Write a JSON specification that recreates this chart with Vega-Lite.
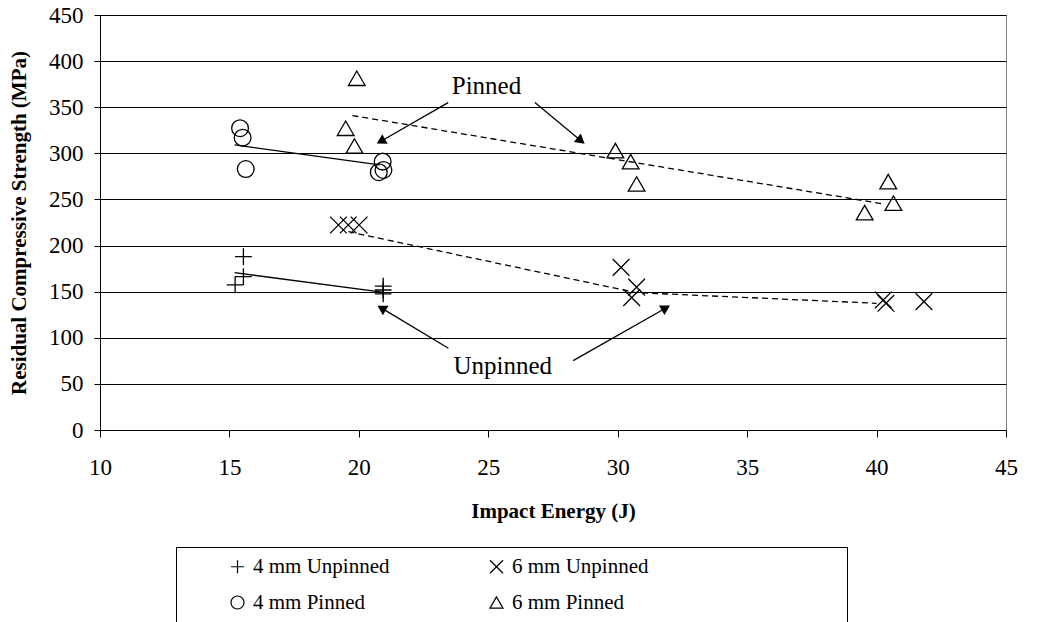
{
  "$schema": "https://vega.github.io/schema/vega-lite/v6.json",
  "width": 906,
  "height": 415,
  "autosize": {"type": "none"},
  "padding": {"left": 100, "top": 15, "right": 37, "bottom": 192},
  "background": "white",
  "config": {
    "font": "Liberation Serif",
    "view": {"stroke": "#808080", "strokeWidth": 1},
    "axis": {
      "labelFont": "Liberation Serif",
      "titleFont": "Liberation Serif",
      "labelColor": "black",
      "titleColor": "black",
      "labelFontSize": 23,
      "titleFontSize": 21,
      "titleFontWeight": "bold",
      "domainColor": "black",
      "tickColor": "black",
      "gridColor": "black",
      "gridOpacity": 1
    }
  },
  "datasets": {
    "points": [
      {"series": "4 mm Unpinned", "x": 15.54, "y": 188},
      {"series": "4 mm Unpinned", "x": 15.54, "y": 166.3},
      {"series": "4 mm Unpinned", "x": 15.22, "y": 157.3},
      {"series": "4 mm Unpinned", "x": 20.94, "y": 156},
      {"series": "4 mm Unpinned", "x": 20.94, "y": 151.8},
      {"series": "4 mm Unpinned", "x": 20.94, "y": 147.5},
      {"series": "4 mm Pinned", "x": 15.41, "y": 327.2},
      {"series": "4 mm Pinned", "x": 15.51, "y": 317},
      {"series": "4 mm Pinned", "x": 15.63, "y": 283},
      {"series": "4 mm Pinned", "x": 20.92, "y": 291},
      {"series": "4 mm Pinned", "x": 20.95, "y": 282},
      {"series": "4 mm Pinned", "x": 20.77, "y": 279.5},
      {"series": "6 mm Unpinned", "x": 19.21, "y": 222.3},
      {"series": "6 mm Unpinned", "x": 19.59, "y": 222.3},
      {"series": "6 mm Unpinned", "x": 20.01, "y": 222.3},
      {"series": "6 mm Unpinned", "x": 30.13, "y": 176.4},
      {"series": "6 mm Unpinned", "x": 30.73, "y": 155},
      {"series": "6 mm Unpinned", "x": 30.54, "y": 143.5},
      {"series": "6 mm Unpinned", "x": 40.26, "y": 141},
      {"series": "6 mm Unpinned", "x": 40.36, "y": 137.4},
      {"series": "6 mm Unpinned", "x": 41.83, "y": 139.2},
      {"series": "6 mm Pinned", "x": 19.92, "y": 381.4},
      {"series": "6 mm Pinned", "x": 19.49, "y": 327.2},
      {"series": "6 mm Pinned", "x": 19.83, "y": 308},
      {"series": "6 mm Pinned", "x": 29.91, "y": 303},
      {"series": "6 mm Pinned", "x": 30.5, "y": 291},
      {"series": "6 mm Pinned", "x": 30.73, "y": 266.8},
      {"series": "6 mm Pinned", "x": 40.45, "y": 269.3},
      {"series": "6 mm Pinned", "x": 40.65, "y": 245.9},
      {"series": "6 mm Pinned", "x": 39.54, "y": 235.7}
    ],
    "trends": [
      {"series": "4 mm Unpinned", "x": 15.2, "y": 170.6},
      {"series": "4 mm Unpinned", "x": 20.9, "y": 149.5},
      {"series": "4 mm Pinned", "x": 15.2, "y": 309.1},
      {"series": "4 mm Pinned", "x": 20.8, "y": 287.4},
      {"series": "6 mm Unpinned", "x": 19.6, "y": 215},
      {"series": "6 mm Unpinned", "x": 30.7, "y": 149},
      {"series": "6 mm Unpinned", "x": 40.0, "y": 137.4},
      {"series": "6 mm Pinned", "x": 19.75, "y": 341},
      {"series": "6 mm Pinned", "x": 40.3, "y": 245}
    ],
    "arrows": [
      {"id": "a1", "x": 23.45, "y": 355, "x2": 20.85, "y2": 313.1},
      {"id": "a2", "x": 26.8, "y": 355, "x2": 28.58, "y2": 313.7},
      {"id": "a3", "x": 23.46, "y": 88.6, "x2": 20.88, "y2": 132.2},
      {"id": "a4", "x": 28.28, "y": 75.2, "x2": 31.86, "y2": 132.3}
    ],
    "notes": [
      {"label": "Pinned", "x": 24.93, "y": 372.9},
      {"label": "Unpinned", "x": 25.56, "y": 69.4}
    ]
  },
  "layer": [
    {
      "data": {"name": "trends"},
      "transform": [{"filter": {"field": "series", "oneOf": ["4 mm Unpinned", "4 mm Pinned"]}}],
      "mark": {"type": "line", "color": "black", "strokeWidth": 1.3},
      "encoding": {
        "x": {
          "field": "x", "type": "quantitative",
          "scale": {"domain": [10, 45], "nice": false, "zero": false},
          "axis": {
            "title": "Impact Energy (J)",
            "values": [10, 15, 20, 25, 30, 35, 40, 45],
            "grid": false,
            "tickSize": 7,
            "labelPadding": 19,
            "titlePadding": 21,
            "labelFlush": false
          }
        },
        "y": {
          "field": "y", "type": "quantitative",
          "scale": {"domain": [0, 450], "nice": false},
          "axis": {
            "title": "Residual Compressive Strength (MPa)",
            "values": [0, 50, 100, 150, 200, 250, 300, 350, 400, 450],
            "grid": true,
            "tickSize": 6,
            "labelPadding": 11,
            "titlePadding": 19,
            "labelFlush": false
          }
        },
        "detail": {"field": "series"}
      }
    },
    {
      "data": {"name": "trends"},
      "transform": [{"filter": {"field": "series", "oneOf": ["6 mm Unpinned", "6 mm Pinned"]}}],
      "mark": {"type": "line", "color": "black", "strokeWidth": 1.3, "strokeDash": [6, 4]},
      "encoding": {
        "x": {"field": "x", "type": "quantitative"},
        "y": {"field": "y", "type": "quantitative"},
        "detail": {"field": "series"}
      }
    },
    {
      "data": {"name": "points"},
      "mark": {"type": "point", "filled": false, "color": "black", "strokeWidth": 1.3, "size": 280, "opacity": 1},
      "encoding": {
        "x": {"field": "x", "type": "quantitative"},
        "y": {"field": "y", "type": "quantitative"},
        "shape": {
          "field": "series", "type": "nominal",
          "scale": {
            "domain": ["4 mm Unpinned", "4 mm Pinned", "6 mm Unpinned", "6 mm Pinned"],
            "range": ["M-1,0L1,0M0,-1L0,1", "circle", "M-1,-1L1,1M-1,1L1,-1", "triangle-up"]
          },
          "legend": {
            "orient": "none",
            "legendX": 76,
            "legendY": 532,
            "columns": 2,
            "columnPadding": 96,
            "rowPadding": 14,
            "padding": 9,
            "strokeColor": "black",
            "fillColor": "white",
            "title": "\u00a0",
            "titleOrient": "left",
            "titlePadding": 42,
            "titleFontSize": 10,
            "labelFont": "Liberation Serif",
            "labelFontSize": 21,
            "labelColor": "black",
            "labelOffset": 5,
            "labelLimit": 600,
            "labelExpr": "(datum.label === '6 mm Unpinned' || datum.label === '6 mm Pinned') ? datum.label + '\u00a0\u00a0\u00a0\u00a0\u00a0\u00a0\u00a0\u00a0\u00a0\u00a0\u00a0\u00a0\u00a0\u00a0\u00a0\u00a0\u00a0\u00a0\u00a0\u00a0\u00a0\u00a0\u00a0\u00a0\u00a0\u00a0\u00a0\u00a0\u00a0\u00a0\u00a0\u00a0\u00a0\u00a0\u00a0\u00a0\u200b' : datum.label",
            "symbolSize": 170,
            "symbolStrokeWidth": 1.2,
            "symbolStrokeColor": "black",
            "symbolFillColor": "transparent"
          }
        }
      }
    },
    {
      "data": {"name": "arrows"},
      "mark": {"type": "rule", "color": "black", "strokeWidth": 1.3},
      "encoding": {
        "x": {"field": "x", "type": "quantitative"},
        "y": {"field": "y", "type": "quantitative"},
        "x2": {"field": "x2"},
        "y2": {"field": "y2"}
      }
    },
    {
      "data": {"name": "arrows"},
      "transform": [{"filter": {"field": "id", "equal": "a1"}}],
      "mark": {"type": "point", "shape": "triangle-up", "filled": true, "color": "black", "size": 120, "opacity": 1, "angle": 240.3},
      "encoding": {
        "x": {"field": "x2", "type": "quantitative"},
        "y": {"field": "y2", "type": "quantitative"}
      }
    },
    {
      "data": {"name": "arrows"},
      "transform": [{"filter": {"field": "id", "equal": "a2"}}],
      "mark": {"type": "point", "shape": "triangle-up", "filled": true, "color": "black", "size": 120, "opacity": 1, "angle": 129.1},
      "encoding": {
        "x": {"field": "x2", "type": "quantitative"},
        "y": {"field": "y2", "type": "quantitative"}
      }
    },
    {
      "data": {"name": "arrows"},
      "transform": [{"filter": {"field": "id", "equal": "a3"}}],
      "mark": {"type": "point", "shape": "triangle-up", "filled": true, "color": "black", "size": 120, "opacity": 1, "angle": 301.1},
      "encoding": {
        "x": {"field": "x2", "type": "quantitative"},
        "y": {"field": "y2", "type": "quantitative"}
      }
    },
    {
      "data": {"name": "arrows"},
      "transform": [{"filter": {"field": "id", "equal": "a4"}}],
      "mark": {"type": "point", "shape": "triangle-up", "filled": true, "color": "black", "size": 120, "opacity": 1, "angle": 60},
      "encoding": {
        "x": {"field": "x2", "type": "quantitative"},
        "y": {"field": "y2", "type": "quantitative"}
      }
    },
    {
      "data": {"name": "notes"},
      "mark": {"type": "text", "font": "Liberation Serif", "fontSize": 25, "color": "black", "align": "center", "baseline": "middle"},
      "encoding": {
        "x": {"field": "x", "type": "quantitative"},
        "y": {"field": "y", "type": "quantitative"},
        "text": {"field": "label"}
      }
    }
  ]
}
